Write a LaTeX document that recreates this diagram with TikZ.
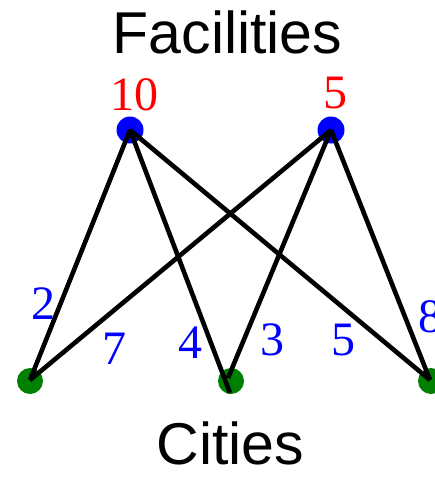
\documentclass[tikz,border=0pt]{standalone}
\usepackage{fontspec}
\setmainfont{Liberation Serif}
\newfontfamily\titlefont{Liberation Sans}
\begin{document}
\begin{tikzpicture}[x=1pt,y=-1pt,
  title/.style={font=\titlefont\fontsize{59}{60}\selectfont, anchor=base, inner sep=0pt},
  caplabel/.style={text=red, font=\fontsize{48}{49}\selectfont, anchor=base, inner sep=0pt},
  cost/.style={text=blue, font=\fontsize{48}{49}\selectfont, anchor=base, inner sep=0pt},
  fac/.style={circle, fill=blue, minimum size=27pt, inner sep=0pt},
  city/.style={circle, fill={rgb,255:red,0;green,128;blue,0}, minimum size=26pt, inner sep=0pt},
  edge/.style={line width=4.6pt, black}]
\useasboundingbox (0,0) rectangle (435,479);
\node[title] (ft) at (227.5,53) {Facilities};
\node[title] (ct) at (230.5,464) {Cities};
\node[fac] (f1) at (130,130) {};
\node[fac] (f2) at (331,130) {};
\node[city] (c1) at (30,381) {};
\node[city] (c2) at (231,381) {};
\node[city] (c3) at (431,381) {};
\coordinate (e1) at (30,380);
\coordinate (e2a) at (230,393);
\coordinate (e2b) at (228,378);
\coordinate (e3) at (430,380);
\draw[edge] (f1.center) -- (e1);
\draw[edge] (f1.center) -- (e2a);
\draw[edge] (f1.center) -- (e3);
\draw[edge] (f2.center) -- (e1);
\draw[edge] (f2.center) -- (e2b);
\draw[edge] (f2.center) -- (e3);
\node[caplabel] (l1) at (134.5,110) {10};
\node[caplabel] (l2) at (335,108) {5};
\node[cost] (k1) at (43,319) {2};
\node[cost] (k2) at (114,364) {7};
\node[cost] (k3) at (190,358) {4};
\node[cost] (k4) at (272,355) {3};
\node[cost] (k5) at (343,355) {5};
\node[cost] (k6) at (430,332) {8};
\end{tikzpicture}
\end{document}
